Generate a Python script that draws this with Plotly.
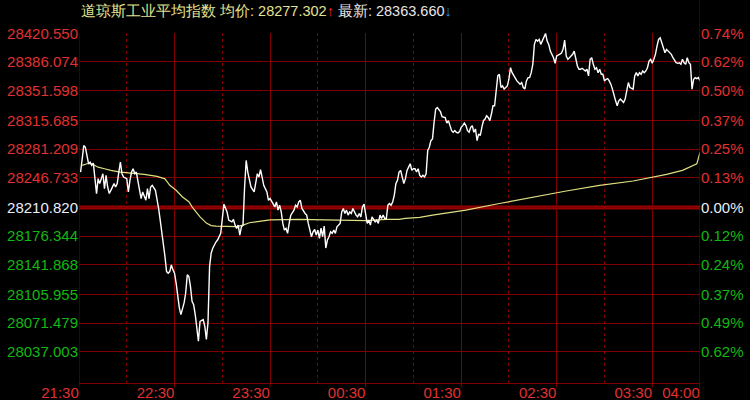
import plotly.graph_objects as go

PREV_CLOSE = 28210.820
AVG_PRICE = 28277.302
LAST_PRICE = 28363.660

PRICE_TICKS = [28420.550, 28386.074, 28351.598, 28315.685, 28281.209, 28246.733,
               28210.820, 28176.344, 28141.868, 28105.955, 28071.479, 28037.003]
PCT_LABELS = ["0.74%", "0.62%", "0.50%", "0.37%", "0.25%", "0.13%",
              "0.00%", "0.12%", "0.24%", "0.37%", "0.49%", "0.62%"]
TIME_TICKS = [0, 60, 120, 180, 240, 300, 360, 390]
TIME_LABELS = ["21:30", "22:30", "23:30", "00:30", "01:30", "02:30", "03:30", "04:00"]
HOUR_TICKS = [30, 90, 150, 210, 270, 330]

# minutes since 21:30 and the index value
MINUTES = [
    1, 3, 4, 5, 6, 7, 8, 9, 10, 11,
    12, 13, 14, 15, 16, 17, 18, 19, 20, 22,
    23, 24, 25, 26, 27, 28, 30, 31, 32, 33,
    34, 35, 36, 37, 38, 39, 40, 42, 43, 44,
    45, 46, 48, 49, 50, 51, 52, 53, 54, 55,
    56, 57, 58, 59, 60, 61, 62, 63, 64, 66,
    67, 68, 69, 70, 71, 72, 73, 74, 75, 76,
    78, 79, 80, 81, 82, 83, 84, 86, 87, 89,
    90, 91, 93, 94, 96, 97, 98, 99, 100, 101,
    102, 103, 104, 105, 106, 107, 108, 110, 111, 112,
    113, 114, 115, 116, 118, 119, 120, 121, 123, 124,
    125, 126, 127, 128, 129, 130, 131, 132, 133, 135,
    136, 137, 138, 139, 140, 142, 143, 144, 145, 146,
    147, 148, 149, 150, 151, 152, 153, 154, 155, 156,
    157, 158, 159, 160, 161, 162, 164, 165, 166, 167,
    168, 169, 170, 171, 172, 173, 174, 175, 176, 177,
    178, 179, 180, 181, 182, 183, 184, 186, 187, 188,
    189, 190, 191, 192, 193, 194, 195, 196, 197, 198,
    199, 200, 201, 202, 203, 204, 205, 206, 207, 208,
    209, 210, 211, 212, 213, 214, 215, 216, 217, 218,
    219, 220, 221, 222, 223, 224, 225, 226, 227, 228,
    230, 231, 232, 233, 234, 235, 236, 237, 238, 239,
    240, 241, 242, 243, 244, 245, 246, 247, 248, 249,
    250, 251, 252, 253, 254, 255, 256, 257, 258, 259,
    260, 261, 262, 263, 264, 265, 266, 267, 268, 269,
    270, 271, 272, 273, 274, 275, 276, 277, 278, 279,
    280, 281, 282, 283, 284, 285, 286, 287, 288, 289,
    290, 291, 292, 293, 294, 295, 296, 297, 298, 299,
    300, 302, 303, 304, 305, 306, 307, 308, 309, 310,
    311, 312, 313, 314, 315, 316, 318, 319, 320, 321,
    322, 323, 324, 325, 326, 327, 328, 329, 330, 331,
    332, 333, 334, 335, 336, 337, 338, 339, 340, 341,
    342, 343, 344, 345, 346, 348, 349, 350, 351, 352,
    353, 354, 355, 356, 357, 358, 359, 360, 361, 362,
    363, 364, 365, 366, 367, 368, 369, 370, 372, 373,
    374, 375, 376, 377, 378, 379, 380, 381, 382, 383,
    384, 385, 386, 387, 388, 389, 390,
]
PRICES = [
    28253.5, 28285.4, 28283.4, 28273.5, 28263.5, 28265.4, 28261.5, 28264.2, 28247.5, 28227.6,
    28245.5, 28239.6, 28245.5, 28251.5, 28233.6, 28249.5, 28235.5, 28227.6, 28231.5, 28239.6,
    28235.5, 28239.6, 28253.5, 28265.4, 28251.5, 28247.5, 28245.5, 28229.5, 28243.5, 28253.5,
    28257.5, 28251.5, 28253.5, 28243.5, 28231.5, 28221.6, 28229.5, 28219.5, 28233.6, 28221.6,
    28235.5, 28237.5, 28231.5, 28221.6, 28209.6, 28195.6, 28181.6, 28171.6, 28151.6, 28133.6,
    28131.7, 28133.6, 28141.7, 28135.7, 28131.7, 28119.8, 28103.7, 28089.8, 28081.8, 28095.8,
    28107.8, 28129.7, 28127.7, 28115.7, 28097.7, 28093.8, 28081.8, 28063.8, 28049.8, 28073.7,
    28075.8, 28067.8, 28051.8, 28071.8, 28139.6, 28155.7, 28161.7, 28169.2, 28171.6, 28179.7,
    28195.6, 28214.8, 28205.5, 28195.6, 28193.5, 28196.4, 28189.6, 28185.6, 28189.6, 28177.6,
    28187.6, 28189.6, 28235.5, 28267.5, 28253.5, 28245.5, 28235.5, 28229.5, 28243.5, 28251.5,
    28247.5, 28256.3, 28247.5, 28237.5, 28229.5, 28219.5, 28221.6, 28218.7, 28211.5, 28217.5,
    28207.6, 28213.6, 28205.5, 28191.6, 28183.6, 28185.6, 28179.7, 28191.6, 28201.6, 28207.6,
    28213.6, 28211.5, 28217.5, 28219.5, 28209.6, 28203.6, 28201.6, 28191.6, 28181.6, 28175.6,
    28181.6, 28184.4, 28177.6, 28183.6, 28173.7, 28186.0, 28175.6, 28188.4, 28162.0, 28171.6,
    28175.6, 28181.6, 28179.7, 28183.6, 28179.7, 28187.6, 28191.6, 28205.5, 28209.6, 28203.6,
    28207.6, 28201.6, 28205.5, 28203.6, 28209.6, 28205.5, 28201.6, 28199.5, 28203.6, 28199.5,
    28211.5, 28214.8, 28203.6, 28191.6, 28195.6, 28189.6, 28199.5, 28193.5, 28195.6, 28191.6,
    28201.6, 28197.6, 28201.6, 28197.6, 28197.6, 28213.6, 28215.6, 28213.6, 28217.5, 28225.5,
    28239.6, 28243.5, 28253.5, 28255.5, 28247.5, 28239.6, 28245.5, 28255.5, 28259.4, 28263.5,
    28255.5, 28257.5, 28257.5, 28253.5, 28257.5, 28249.5, 28247.5, 28249.5, 28247.5, 28251.5,
    28279.4, 28283.4, 28291.4, 28293.5, 28313.3, 28329.4, 28331.3, 28328.6, 28326.2, 28320.2,
    28319.0, 28312.4, 28315.4, 28309.4, 28303.4, 28301.4, 28303.4, 28301.4, 28300.7, 28302.2,
    28307.4, 28309.4, 28312.6, 28309.4, 28303.4, 28301.4, 28307.4, 28309.4, 28301.4, 28305.4,
    28291.4, 28299.5, 28297.4, 28307.4, 28315.4, 28317.4, 28321.4, 28319.3, 28315.4, 28323.4,
    28333.4, 28333.4, 28355.3, 28369.3, 28371.3, 28355.3, 28357.3, 28353.4, 28355.3, 28357.3,
    28365.3, 28379.2, 28373.2, 28369.3, 28367.3, 28363.3, 28361.3, 28359.4, 28361.3, 28355.3,
    28353.4, 28363.3, 28367.3, 28367.3, 28373.2, 28383.3, 28407.3, 28413.3, 28411.2, 28413.3,
    28407.3, 28411.2, 28415.2, 28420.5, 28411.2, 28407.3, 28399.2, 28395.3, 28391.2, 28384.5,
    28393.3, 28395.6, 28396.8, 28401.3, 28412.4, 28393.3, 28389.3, 28391.2, 28393.3, 28395.3,
    28399.2, 28391.2, 28381.3, 28377.3, 28377.3, 28378.5, 28375.3, 28377.3, 28369.3, 28389.3,
    28391.2, 28383.3, 28377.3, 28379.2, 28373.2, 28377.3, 28371.3, 28371.3, 28363.3, 28365.3,
    28366.0, 28363.3, 28359.4, 28353.4, 28345.3, 28339.3, 28333.4, 28339.3, 28341.4, 28339.3,
    28337.3, 28341.4, 28351.3, 28361.3, 28355.3, 28353.4, 28369.3, 28373.2, 28369.3, 28373.2,
    28371.3, 28375.3, 28373.2, 28375.3, 28379.2, 28387.3, 28389.3, 28384.5, 28389.3, 28395.3,
    28405.2, 28413.3, 28415.2, 28409.2, 28403.2, 28397.2, 28401.3, 28399.2, 28395.3, 28391.2,
    28387.3, 28385.2, 28384.5, 28385.2, 28383.3, 28389.3, 28385.2, 28383.3, 28391.2, 28385.2,
    28383.3, 28353.4, 28365.3, 28367.3, 28366.1, 28367.3, 28363.7,
]

AVG_MINUTES = [2, 5, 8, 12, 16, 20, 26, 33, 41, 49,
               54, 57, 61, 65, 69, 71, 76, 80, 83, 86,
               99, 103, 107, 111, 120, 138, 157, 180, 193, 201,
               205, 214, 222, 233, 243, 264, 285, 306, 327, 348,
               369, 379, 388, 390]
AVG_PRICES = [28261.5, 28263.5, 28263.5, 28259.4, 28257.5, 28255.5, 28253.5, 28252.3, 28250.7, 28248.3,
              28245.3, 28237.5, 28231.5, 28223.5, 28217.7, 28211.5, 28199.5, 28192.0, 28189.0, 28188.4,
              28187.8, 28189.6, 28192.4, 28193.5, 28195.8, 28196.4, 28195.6, 28195.0, 28196.4, 28196.4,
              28197.6, 28198.8, 28201.6, 28204.8, 28207.6, 28215.6, 28223.5, 28230.7, 28237.5, 28242.7,
              28250.7, 28255.5, 28263.5, 28277.3]

assert len(MINUTES) == len(PRICES)
assert len(AVG_MINUTES) == len(AVG_PRICES)

GRID = "#800000"
BASE_LINE = "#960000"
UP = "#e03030"
DOWN = "#12b812"
FLAT = "#e8eef8"
FONT = "Arial, Liberation Sans, sans-serif"
Y_RANGE = [27999.4, 28421.0]


def tick_color(v):
    if abs(v - PREV_CLOSE) < 1e-6:
        return FLAT
    return UP if v > PREV_CLOSE else DOWN


price_text = [f'<span style="color:{tick_color(v)}">{v:.3f}</span>' for v in PRICE_TICKS]
pct_text = [f'<span style="color:{tick_color(v)}">{t}</span>' for v, t in zip(PRICE_TICKS, PCT_LABELS)]

fig = go.Figure()
fig.add_trace(go.Scatter(
    x=AVG_MINUTES, y=AVG_PRICES, mode="lines",
    line=dict(color="#dede82", width=1.2), hoverinfo="skip",
))
fig.add_trace(go.Scatter(
    x=MINUTES, y=PRICES, mode="lines",
    line=dict(color="#ffffff", width=1.4),
))
fig.add_trace(go.Scatter(
    x=MINUTES, y=PRICES, mode="lines", yaxis="y2",
    line=dict(color="rgba(0,0,0,0)", width=0), hoverinfo="skip",
))

fig.add_shape(type="line", xref="x", yref="y", x0=0, x1=390, y0=PREV_CLOSE, y1=PREV_CLOSE,
              line=dict(color=BASE_LINE, width=4), layer="below")
fig.add_shape(type="line", xref="x", yref="paper", x0=390, x1=390, y0=-0.2, y1=1.2,
              line=dict(color=GRID, width=1))
# short tick marks under the half-hour lines
for t in TIME_TICKS:
    fig.add_shape(type="line", xref="x", yref="paper", x0=t, x1=t, y0=-0.012, y1=0,
                  line=dict(color=GRID, width=1))
fig.add_shape(type="line", xref="x", yref="paper", x0=0, x1=0, y0=0, y1=1,
              line=dict(color=GRID, width=1))

title_html = (
    f'<span style="color:#e2e290">道琼斯工业平均指数 均价: {AVG_PRICE:.3f}</span>'
    f'<span style="color:#ff2a2a">↑</span>'
    f'<span style="color:#e6e6e6"> 最新: {LAST_PRICE:.3f}</span>'
    f'<span style="color:#1e96ff">↓</span>'
)
fig.add_annotation(
    text=title_html, xref="paper", yref="paper", x=0, y=1.063,
    xanchor="left", yanchor="middle", showarrow=False,
    font=dict(family=FONT, size=14.5),
)

fig.update_layout(
    width=750, height=400,
    margin=dict(l=79, r=50, t=33, b=17),
    paper_bgcolor="#000000", plot_bgcolor="#000000",
    showlegend=False,
    font=dict(family=FONT, size=15, color=UP),
    xaxis=dict(
        range=[0, 390], tickmode="array", tickvals=TIME_TICKS, ticktext=TIME_LABELS,
        showgrid=True, gridcolor=GRID, gridwidth=1, zeroline=False,
        showline=True, linecolor=GRID, linewidth=1,
        ticks="", ticklabelshift=-19, ticklabelstandoff=-4,
        tickfont=dict(family=FONT, size=15, color=UP),
        minor=dict(tickmode="array", tickvals=HOUR_TICKS, showgrid=True,
                   griddash="dot", gridcolor=GRID, gridwidth=1, ticks=""),
        automargin=False, fixedrange=True,
    ),
    yaxis=dict(
        range=Y_RANGE, tickmode="array", tickvals=PRICE_TICKS, ticktext=price_text,
        showgrid=True, gridcolor=GRID, gridwidth=1, zeroline=False, ticks="",
        tickfont=dict(family=FONT, size=15), automargin=False,
    ),
    yaxis2=dict(
        range=Y_RANGE, overlaying="y", side="right", tickmode="array",
        tickvals=PRICE_TICKS, ticktext=pct_text, showgrid=False, zeroline=False,
        ticks="", tickfont=dict(family=FONT, size=15), automargin=False,
    ),
)

# drop the default 8px body margin so the 750x400 figure fills the window
fig.write_html(
    "out.html",
    config={"displayModeBar": False},
    post_script="document.body.style.margin = '0px';",
)
